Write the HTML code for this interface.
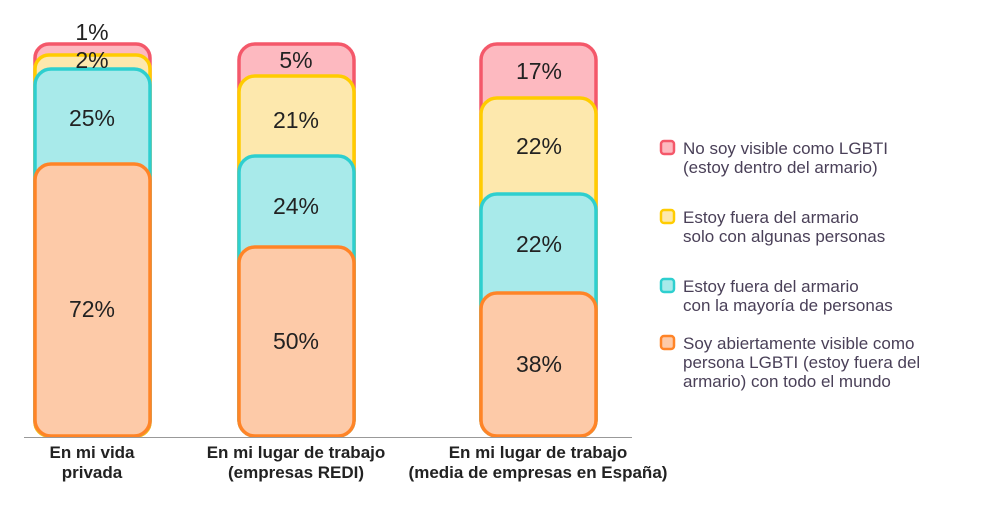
<!DOCTYPE html>
<html><head><meta charset="utf-8"><style>
body{margin:0;background:#fff;}
svg text{font-family:"Liberation Sans",sans-serif;}
</style></head><body>
<svg width="1000" height="500" xmlns="http://www.w3.org/2000/svg">
<g stroke-width="3.5">
<rect x="35" y="44" width="115" height="392" rx="14" fill="#fdb9c0" stroke="#f4586a"/>
<rect x="35" y="55" width="115" height="381" rx="14" fill="#fde8ad" stroke="#ffcc00"/>
<rect x="35" y="69" width="115" height="367" rx="16" fill="#a8eaea" stroke="#2ecfcf"/>
<rect x="35" y="164" width="115" height="272" rx="16" fill="#fdcaa8" stroke="#ff8427"/>
<rect x="239" y="44" width="115" height="392" rx="16" fill="#fdb9c0" stroke="#f4586a"/>
<rect x="239" y="76" width="115" height="360" rx="16" fill="#fde8ad" stroke="#ffcc00"/>
<rect x="239" y="156" width="115" height="280" rx="16" fill="#a8eaea" stroke="#2ecfcf"/>
<rect x="239" y="247" width="115" height="189" rx="16" fill="#fdcaa8" stroke="#ff8427"/>
<rect x="481" y="44" width="115" height="392" rx="16" fill="#fdb9c0" stroke="#f4586a"/>
<rect x="481" y="98" width="115" height="338" rx="16" fill="#fde8ad" stroke="#ffcc00"/>
<rect x="481" y="194" width="115" height="242" rx="16" fill="#a8eaea" stroke="#2ecfcf"/>
<rect x="481" y="293" width="115" height="143" rx="16" fill="#fdcaa8" stroke="#ff8427"/>
</g>
<line x1="24" y1="437.5" x2="632" y2="437.5" stroke="#999" stroke-width="1"/>
<g font-size="23" fill="#222" text-anchor="middle">
<text x="92" y="40">1%</text>
<text x="92" y="68">2%</text>
<text x="92" y="126">25%</text>
<text x="92" y="317">72%</text>
<text x="296" y="68">5%</text>
<text x="296" y="128">21%</text>
<text x="296" y="214">24%</text>
<text x="296" y="349">50%</text>
<text x="539" y="79">17%</text>
<text x="539" y="154">22%</text>
<text x="539" y="252">22%</text>
<text x="539" y="372">38%</text>
</g>
<g font-size="17" font-weight="bold" fill="#222" text-anchor="middle">
<text x="92" y="458">En mi vida</text>
<text x="92" y="478">privada</text>
<text x="296" y="458">En mi lugar de trabajo</text>
<text x="296" y="478">(empresas REDI)</text>
<text x="538" y="458">En mi lugar de trabajo</text>
<text x="538" y="478">(media de empresas en España)</text>
</g>
<g stroke-width="2.5">
<rect x="661" y="141" width="13" height="13" rx="3" fill="#fdb9c0" stroke="#f4586a"/>
<rect x="661" y="210" width="13" height="13" rx="3" fill="#fde8ad" stroke="#ffcc00"/>
<rect x="661" y="279" width="13" height="13" rx="3" fill="#a8eaea" stroke="#2ecfcf"/>
<rect x="661" y="336" width="13" height="13" rx="3" fill="#fdcaa8" stroke="#ff8427"/>
</g>
<g font-size="17" fill="#4a4058">
<text x="683" y="154">No soy visible como LGBTI</text>
<text x="683" y="173">(estoy dentro del armario)</text>
<text x="683" y="223">Estoy fuera del armario</text>
<text x="683" y="242">solo con algunas personas</text>
<text x="683" y="292">Estoy fuera del armario</text>
<text x="683" y="311">con la mayoría de personas</text>
<text x="683" y="349">Soy abiertamente visible como</text>
<text x="683" y="368">persona LGBTI (estoy fuera del</text>
<text x="683" y="387">armario) con todo el mundo</text>
</g>
</svg>
</body></html>
